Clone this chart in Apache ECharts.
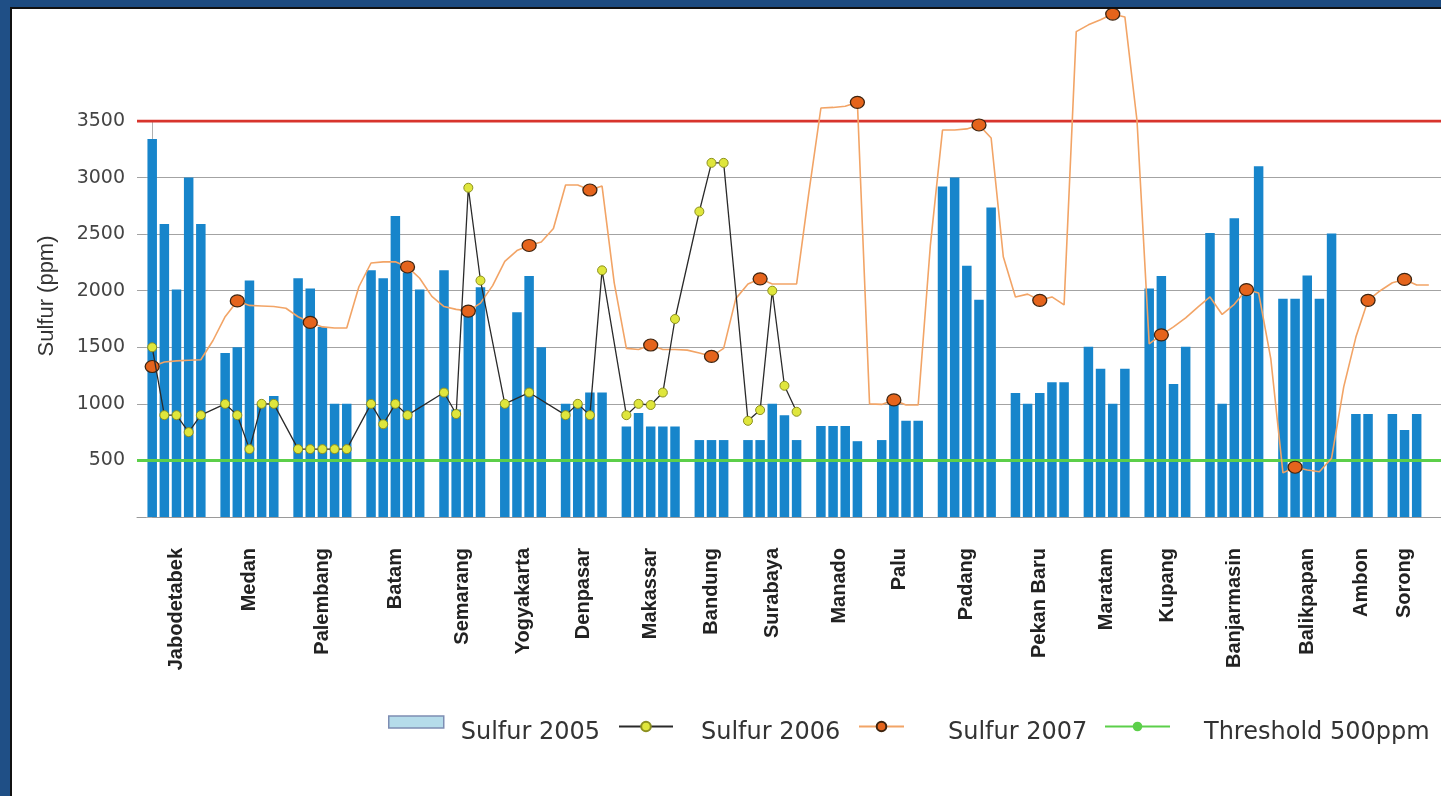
<!DOCTYPE html>
<html>
<head>
<meta charset="utf-8">
<title>Sulfur content by city</title>
<script src="https://cdn.jsdelivr.net/npm/echarts@6/dist/echarts.min.js"></script>
<style>
  html, body { margin: 0; padding: 0; background: #fff; }
  #chart { width: 1441px; height: 796px; }
</style>
</head>
<body>
<div id="chart"></div>
<script>
const cities = ['Jabodetabek', 'Medan', 'Palembang', 'Batam', 'Semarang', 'Yogyakarta', 'Denpasar',
  'Makassar', 'Bandung', 'Surabaya', 'Manado', 'Palu', 'Padang', 'Pekan Baru', 'Maratam', 'Kupang',
  'Banjarmasin', 'Balikpapan', 'Ambon', 'Sorong'];

// one value per sample (bar) in each city
const sulfur2005 = [
  [3340, 2590, 2010, 3000, 2590], [1450, 1500, 2090, 1000, 1070], [2110, 2020, 1680, 1000, 1000],
  [2180, 2110, 2660, 2160, 2010], [2180, 950, 1800, 2030], [1000, 1810, 2130, 1500],
  [1000, 1000, 1100, 1100], [800, 920, 800, 800, 800], [680, 680, 680], [680, 680, 1000, 900, 680],
  [805, 805, 805, 670], [680, 1005, 850, 850], [2920, 3000, 2220, 1920, 2735],
  [1095, 1000, 1095, 1190, 1190], [1505, 1310, 1000, 1310], [2020, 2130, 1175, 1505],
  [2510, 1000, 2640, 1960, 3100], [1930, 1930, 2135, 1930, 2505], [910, 910], [910, 770, 910]
];
const sulfur2006 = [
  [1500, 900, 900, 750, 900], [1000, 900, 600, 1000, 1000], [600, 600, 600, 600, 600],
  [1000, 820, 1000, 900, null], [1100, 910, 2910, 2090], [1000, null, 1100, null],
  [900, 1000, 900, 2180], [900, 1000, 990, 1100, 1750], [2700, 3130, 3130], [850, 945, 2000, 1160, 930],
  [null, null, null, null], [null, null, null, null], [null, null, null, null, null],
  [null, null, null, null, null], [null, null, null, null], [null, null, null, null],
  [null, null, null, null, null], [null, null, null, null, null], [null, null], [null, null, null]
];
const sulfur2007 = [
  [1330, 1370, 1380, 1385, 1390], [1770, 1910, 1870, 1865, 1860], [1770, 1720, 1680, 1670, 1670],
  [2245, 2255, 2255, 2210, 2110], [1860, 1835, 1820, 1890], [2260, 2355, 2400, 2430],
  [2935, 2935, 2890, 2925], [1490, 1480, 1520, 1480, 1480], [1450, 1420, 1490], [2060, 2105, 2060, 2060, 2060],
  [3615, 3620, 3630, 3665], [995, 1035, 990, 990], [3420, 3420, 3430, 3465, 3350],
  [1945, 1970, 1915, 1945, 1875], [4350, 4395, 4445, 4420], [1530, 1610, 1680, 1760],
  [1945, 1790, 1880, 2010, 1980], [390, 440, 415, 400, 520], [1590, 1915], [2070, 2100, 2050]
];
// 2007 line value in the empty slot after each city
const sulfur2007Gap = [1560, 1845, 2035, 1950, 2045, 2550, 2070, 1475, 1930, 2860,
  1000, 2400, 2300, 4290, 3500, 1855, 1400, 1150, 2000, 2050];
// which sample of each city carries a 2007 marker
const mark2007 = [0, 1, 1, 3, 2, 2, 2, 2, 1, 1, 3, 1, 3, 2, 2, 1, 3, 1, 1, 1];

const yTicks = [0, 500, 1000, 1500, 2000, 2500, 3000, 3500];
const thresholdLow = 500;
const thresholdHigh = 3500;

// every sample gets a slot, with one empty slot between cities
const slots = [];
let pos = 0;
cities.forEach((c, i) => {
  slots.push(sulfur2005[i].map((_, j) => pos + j));
  pos += sulfur2005[i].length + 1;
});
const X_MIN = -1.25, X_MAX = 106;

const labelAt = {};
cities.forEach((c, i) => {
  const p = slots[i];
  labelAt[Math.round((p[0] + p[p.length - 1]) * 2)] = c;
});

const bars = [], line2006 = [], line2007 = [];
cities.forEach((c, i) => {
  slots[i].forEach((x, j) => {
    bars.push([x, sulfur2005[i][j]]);
    if (sulfur2006[i][j] != null) line2006.push([x, sulfur2006[i][j]]);
    if (j === mark2007[i]) line2007.push({ value: [x, sulfur2007[i][j]] });
    else line2007.push({ value: [x, sulfur2007[i][j]], symbol: 'none' });
  });
  const last = slots[i][slots[i].length - 1];
  line2007.push({ value: [last + 1, sulfur2007Gap[i]], symbol: 'none' });
});

const chart = echarts.init(document.getElementById('chart'));

// legend names sit a little lower than their icons: an empty first line pushes them down
const legendText = { fontFamily: 'DejaVu Sans', fontSize: 24, color: '#333' };

const options = {
  animation: false,
  backgroundColor: '#fff',
  graphic: [
    { type: 'rect', z: 100, shape: { x: 0, y: 0, width: 1441, height: 7 }, style: { fill: '#1d4b80' } },
    { type: 'rect', z: 100, shape: { x: 0, y: 7, width: 1441, height: 2 }, style: { fill: '#111' } },
    { type: 'rect', z: 100, shape: { x: 0, y: 0, width: 10, height: 796 }, style: { fill: '#1f4f86' } },
    { type: 'rect', z: 100, shape: { x: 10, y: 9, width: 2, height: 787 }, style: { fill: '#111' } }
  ],
  grid: {
    left: 137,
    right: 0,
    top: 121,
    bottom: 279,
    containLabel: false,
    outerBoundsMode: 'none'
  },
  legend: [
    {
      left: 388, top: 699, padding: 0, itemWidth: 55, itemHeight: 12, icon: 'rect',
      data: [{ name: 'Sulfur 2005', itemStyle: { color: '#b5dcea', borderColor: '#7d8db3', borderWidth: 1.5 } }],
      formatter: '\n{name}',
      textStyle: { ...legendText, lineHeight: 22, padding: [0, 0, 0, 12] }
    },
    {
      left: 618, top: 708, padding: 0, itemWidth: 54, itemHeight: 12,
      data: ['Sulfur 2006'],
      formatter: '\n{name}',
      textStyle: { ...legendText, lineHeight: 13, padding: [0, 0, 0, 23] }
    },
    {
      left: 858, top: 708, padding: 0, itemWidth: 45, itemHeight: 12,
      data: ['Sulfur 2007'],
      formatter: '\n{name}',
      textStyle: { ...legendText, lineHeight: 13, padding: [0, 0, 0, 39] }
    },
    {
      left: 1104, top: 708, padding: 0, itemWidth: 65, itemHeight: 12,
      data: ['Threshold 500ppm'],
      formatter: '\n{name}',
      textStyle: { ...legendText, lineHeight: 13, padding: [0, 0, 0, 29] }
    }
  ],
  xAxis: {
    type: 'value',
    min: X_MIN,
    max: X_MAX,
    interval: 0.25,
    axisLine: { show: true, lineStyle: { color: '#9a9a9a', width: 1 } },
    axisTick: { show: false },
    splitLine: { show: false },
    axisLabel: {
      rotate: 90,
      margin: 31,
      fontFamily: 'Liberation Sans',
      fontWeight: 'bold',
      fontSize: 20,
      color: '#222',
      formatter: v => labelAt[Math.round(v * 4)] || ''
    }
  },
  yAxis: {
    type: 'value',
    min: yTicks[0],
    max: yTicks[yTicks.length - 1],
    interval: yTicks[1] - yTicks[0],
    name: 'Sulfur (ppm)',
    nameLocation: 'middle',
    nameRotate: 90,
    nameGap: 79,
    nameTextStyle: {
      fontFamily: 'Liberation Sans',
      fontSize: 22,
      color: '#333',
      padding: [0, 0, 0, 46]
    },
    axisLine: { show: true, lineStyle: { color: '#b0b0b0', width: 1 } },
    axisTick: { show: true, length: 6, lineStyle: { color: '#b0b0b0' } },
    splitLine: { show: true, lineStyle: { color: '#a3a3a3', width: 1 } },
    axisLabel: {
      margin: 12,
      fontFamily: 'DejaVu Sans',
      fontSize: 19,
      color: '#444',
      formatter: v => (v === 0 ? '' : v)
    }
  },
  series: [
    {
      name: 'Sulfur 2005',
      type: 'bar',
      data: bars,
      barWidth: 9.5,
      itemStyle: { color: '#1785cb' },
      z: 2
    },
    {
      name: 'Threshold 500ppm',
      type: 'line',
      data: [[X_MIN, thresholdLow], [X_MAX, thresholdLow]],
      symbol: 'none',
      lineStyle: { color: '#5ccf4a', width: 3 },
      itemStyle: { color: '#5ccf4a' },
      z: 3
    },
    {
      name: 'Limit 3500ppm',
      type: 'line',
      data: [[X_MIN, thresholdHigh], [X_MAX, thresholdHigh]],
      symbol: 'none',
      lineStyle: { color: '#d8342c', width: 3 },
      z: 3
    },
    {
      name: 'Sulfur 2007',
      type: 'line',
      data: line2007,
      clip: false,
      symbol: 'circle',
      symbolSize: [14, 12],
      lineStyle: { color: '#f2a466', width: 1.6 },
      itemStyle: { color: '#e5641c', borderColor: '#3d2410', borderWidth: 1.2 },
      z: 4
    },
    {
      name: 'Sulfur 2006',
      type: 'line',
      data: line2006,
      symbol: 'circle',
      symbolSize: 9,
      lineStyle: { color: '#2a2a2a', width: 1.3 },
      itemStyle: { color: '#dfe63c', borderColor: '#8c9020', borderWidth: 1 },
      z: 5
    }
  ]
};

chart.setOption(options);
</script>
</body>
</html>
